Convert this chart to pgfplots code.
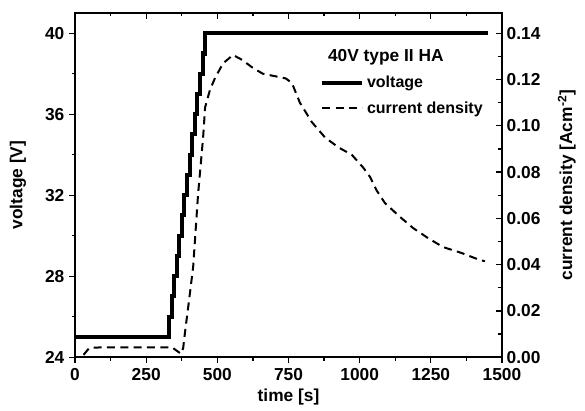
\documentclass[border=0pt]{standalone}
\usepackage{fontspec}
\setmainfont{Liberation Sans}
\usepackage{pgfplots}
\pgfplotsset{compat=1.18}

\pgfplotsset{
  common/.style={
    width=320pt, height=258pt, scale only axis,
    xmin=0, xmax=1500,
    tick label style={font=\bfseries\fontsize{13}{15}\selectfont},
    label style={font=\bfseries\fontsize{13}{15}\selectfont},
    /pgf/number format/assume math mode=true,
    /pgf/number format/1000 sep={},
    axis line style={line width=1.2pt},
    major tick length=4.5pt, minor tick length=2.6pt,
    tick style={line width=1pt, black},
  },
}

\begin{document}
\begin{tikzpicture}
\useasboundingbox (-56.25pt,-39.75pt) rectangle (382.25pt,267.75pt);

\begin{axis}[common,
  ymin=24, ymax=41,
  xtick={0,250,...,1500}, minor x tick num=1,
  ytick={24,28,32,36,40}, minor y tick num=1,
  xtick pos=bottom, ytick pos=left,
  tick align=outside,
  xlabel={time [s]}, ylabel={voltage [V]},
  xlabel style={at={(axis description cs:0.5,-0.116)}, anchor=center},
  ylabel style={at={(axis description cs:-0.134,0.5)}, anchor=center},
]
% voltage, stepped ramp 25 V -> 40 V
\addplot[const plot, line width=3pt, black] coordinates {
  (0,25) (330,26) (339,27) (348,28) (357,29) (366,30) (375,31) (384,32)
  (393,33) (403,34) (412,35) (421,36) (430,37) (439,38) (448,39) (457,40)
  (1450,40)
};
\end{axis}

\begin{axis}[common,
  ymin=0, ymax=0.14875,
  xtick={0,250,...,1500}, minor x tick num=1, xticklabels={},
  ytick={0,0.02,0.04,0.06,0.08,0.10,0.12,0.14}, minor y tick num=1,
  xtick pos=top, ytick pos=right, yticklabel pos=right,
  tick align=inside,
  yticklabel style={/pgf/number format/.cd, fixed, fixed zerofill, precision=2},
  ylabel={current density [Acm\textsuperscript{-2}]},
  ylabel style={at={(axis description cs:1.152,0.5)}, anchor=center},
  legend style={draw=none, fill=none, at={(axis description cs:0.574,0.826)},
    anchor=north west, inner sep=0pt, row sep=5pt,
    font=\bfseries\fontsize{12}{14}\selectfont},
  legend cell align=left,
  legend image code/.code={\draw[#1] (0pt,0pt) -- (30pt,0pt);},
]
\addlegendimage{black, line width=3pt}
\addlegendentry{voltage}
\addplot[black, line width=1.5pt, dash pattern=on 6pt off 4pt] coordinates {
  (30,0.001) (50,0.004) (100,0.0043) (200,0.0043) (300,0.0043) (340,0.0043)
  (355,0.003) (372,0.0015) (380,0.004) (386,0.0104) (400,0.024) (415,0.039)
  (432,0.070) (450,0.095) (457,0.108) (474,0.1155) (492,0.1207) (520,0.127)
  (555,0.1306) (587,0.1285) (625,0.125) (660,0.1225) (700,0.1215) (740,0.1205)
  (762,0.1185) (790,0.110) (832,0.1016) (878,0.095) (924,0.0908) (973,0.0874)
  (1012,0.082) (1036,0.078) (1060,0.072) (1089,0.0666) (1142,0.0606)
  (1188,0.0558) (1240,0.0515) (1293,0.0476) (1359,0.045) (1422,0.042)
  (1440,0.0415)
};
\addlegendentry{current density}
\node[font=\bfseries\fontsize{13}{15}\selectfont] at (axis description cs:0.728,0.872) {40V type II HA};
\end{axis}
\end{tikzpicture}
\end{document}
